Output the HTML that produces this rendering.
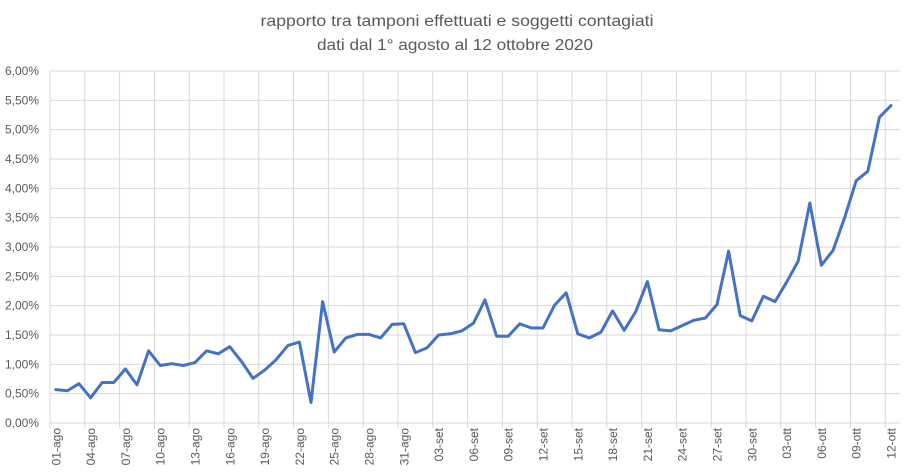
<!DOCTYPE html>
<html><head><meta charset="utf-8"><style>html,body{margin:0;padding:0;background:#fff}svg{display:block}</style></head>
<body>
<svg id="c" width="914" height="475" xmlns="http://www.w3.org/2000/svg" font-family="Liberation Sans, sans-serif">
<rect width="914" height="475" fill="#fff"/>
<text x="457" y="26" text-anchor="middle" font-size="16" fill="#595959" textLength="393" lengthAdjust="spacingAndGlyphs">rapporto tra tamponi effettuati e soggetti contagiati</text>
<text x="455" y="50" text-anchor="middle" font-size="16" fill="#595959" textLength="276" lengthAdjust="spacingAndGlyphs">dati dal 1° agosto al 12 ottobre 2020</text>
<g id="g"></g>
</svg>
<script>
var d=[0.57,0.55,0.67,0.43,0.69,0.69,0.92,0.65,1.23,0.98,1.01,0.98,1.03,1.23,1.18,1.30,1.05,0.76,0.90,1.08,1.32,1.38,0.35,2.07,1.21,1.45,1.51,1.51,1.45,1.68,1.69,
1.20,1.28,1.50,1.52,1.57,1.70,2.10,1.48,1.48,1.69,1.62,1.62,2.01,2.22,1.52,1.45,1.55,1.91,1.58,1.90,2.41,1.59,1.57,1.66,1.75,1.79,2.02,2.93,1.83,1.74,
2.16,2.07,2.40,2.76,3.75,2.69,2.94,3.50,4.13,4.29,5.21,5.41];
var x0=50,dx=11.6,y0=423,k=58.67,right=900,s='';
for(var i=0;i<=12;i++){var y=y0-i*0.5*k;s+='<line x1="'+x0+'" x2="'+right+'" y1="'+y+'" y2="'+y+'" stroke="#d9d9d9" stroke-width="1"/>';
s+='<text x="39" y="'+(y+4)+'" text-anchor="end" font-size="12" fill="#595959">'+(i*0.5).toFixed(2).replace('.',',')+'%</text>';}
for(var j=0;j<=72;j+=3){var x=x0+j*dx;s+='<line x1="'+x+'" x2="'+x+'" y1="'+(y0-6*k)+'" y2="'+(y0+5)+'" stroke="#d9d9d9" stroke-width="1"/>';}
var mn=['gen','feb','mar','apr','mag','giu','lug','ago','set','ott','nov','dic'];
for(var j=0;j<73;j+=3){var t=new Date(2020,7,1+j);var lab=('0'+t.getDate()).slice(-2)+'-'+mn[t.getMonth()];var x=x0+(j+0.5)*dx+4.5;
s+='<text transform="translate('+x+',428) rotate(-90)" text-anchor="end" font-size="12" fill="#595959">'+lab+'</text>';}
var p='';for(var i=0;i<d.length;i++){p+=(i?'L':'M')+(x0+(i+0.5)*dx).toFixed(1)+','+(y0-d[i]*k).toFixed(1);}
s+='<path d="'+p+'" fill="none" stroke="#4472c4" stroke-width="3" stroke-linejoin="round" stroke-linecap="round"/>';
document.getElementById('g').innerHTML=s;
</script>
</body></html>
